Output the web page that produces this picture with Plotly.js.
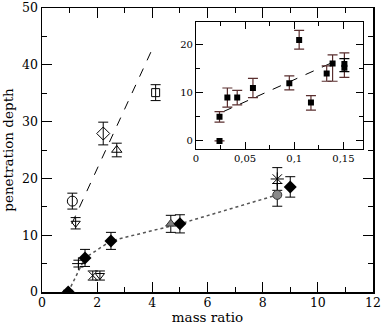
<!DOCTYPE html>
<html>
<head>
<meta charset="utf-8">
<script src="https://cdn.plot.ly/plotly-3.0.1.min.js"></script>
<style>
  html, body { margin: 0; padding: 0; background: #fff; }
  #chart { width: 382px; height: 327px; }
</style>
</head>
<body>
<div id="chart"></div>
<script>
// main panel: filled diamonds with the dotted guide
const massDiamond = [0.95, 1.56, 2.5, 5.0, 9.0];
const depthDiamond = [0, 6, 9, 12, 18.5];
const errDiamond = [0.3, 1.5, 1.5, 1.6, 1.8];

const massDotted = [0.95, 1.56, 2.5, 5.0, 8.53];
const depthDotted = [0, 6, 9, 12, 17.1];

const massDashed = [1.08, 4.01];
const depthDashed = [12.0, 42.9];

// single points, one symbol each
const pointSymbols = ['circle-open', 'triangle-down-open', 'diamond-open', 'triangle-up-open',
  'square-open', 'cross-thin-open', 'x-thin-open', 'triangle-down-open',
  'triangle-up', 'asterisk-open', 'circle'];
const pointMass = [1.10, 1.22, 2.22, 2.71, 4.12, 1.32, 1.84, 2.10, 4.67, 8.53, 8.53];
const pointDepth = [16.0, 12.1, 27.9, 25.0, 35.1, 5.0, 2.9, 2.9, 12.0, 19.9, 17.1];
const pointErr = [1.4, 1.0, 2.0, 1.2, 1.4, 0.6, 0.8, 0.8, 1.5, 2.0, 2.0];
const pointColor = ['black', 'black', 'black', 'black', 'black', 'black', 'black', 'black', '#808080', 'black', '#8a8a8a'];
const pointSize = [10, 8, 10, 9, 8, 9, 8, 8, 9, 11, 9];

// inset
const insetX = [0.024, 0.024, 0.032, 0.042, 0.058, 0.095, 0.105, 0.117, 0.133, 0.139, 0.151];
const insetY = [0, 5, 9, 9, 11, 12, 21, 8, 14, 16.1, 16.0];
const insetErrPlus = [0, 1.1, 2.0, 1.5, 2.0, 1.5, 2.0, 1.4, 1.6, 1.8, 2.3];
const insetErrMinus = [0, 1.1, 2.0, 1.5, 2.0, 1.4, 1.9, 1.6, 1.6, 3.7, 2.8];

const insetInnerX = [0.151];
const insetInnerY = [15.2];
const insetInnerPlus = [1.9];
const insetInnerMinus = [0.8];

const insetDashedX = [0.028, 0.142];
const insetDashedY = [6.1, 16.6];

const serif = 'DejaVu Serif';

const traces = [];

traces.push({
  x: massDotted, y: depthDotted, type: 'scatter', mode: 'lines',
  line: { color: '#555', width: 1.5, dash: 'dot' }
});
traces.push({
  x: massDashed, y: depthDashed, type: 'scatter', mode: 'lines',
  line: { color: 'black', width: 1, dash: 'dash' }
});

for (let i = 0; i < pointMass.length; i++) {
  const filled = i === 8 || i === 10;
  traces.push({
    x: [pointMass[i]], y: [pointDepth[i]], type: 'scatter', mode: 'markers',
    error_y: { type: 'data', array: [pointErr[i]], width: 5, thickness: 1, color: 'black' },
    marker: {
      symbol: pointSymbols[i], size: pointSize[i], color: pointColor[i],
      line: { color: filled ? '#333' : 'black', width: 1 }
    }
  });
}

traces.push({
  x: massDiamond, y: depthDiamond, type: 'scatter', mode: 'markers',
  error_y: { type: 'data', array: errDiamond, width: 5, thickness: 1, color: 'black' },
  marker: { symbol: 'diamond', size: 10, color: 'black' }
});

traces.push({
  x: insetDashedX, y: insetDashedY, xaxis: 'x2', yaxis: 'y2', type: 'scatter', mode: 'lines',
  line: { color: 'black', width: 1, dash: 'dash' }
});
traces.push({
  x: insetX, y: insetY, xaxis: 'x2', yaxis: 'y2', type: 'scatter', mode: 'markers',
  error_y: { type: 'data', symmetric: false, array: insetErrPlus, arrayminus: insetErrMinus,
    width: 5, thickness: 1.2, color: '#5a2f2f' },
  marker: { symbol: 'square', size: 6, color: 'black' }
});
traces.push({
  x: insetInnerX, y: insetInnerY, xaxis: 'x2', yaxis: 'y2', type: 'scatter', mode: 'markers',
  error_y: { type: 'data', symmetric: false, array: insetInnerPlus, arrayminus: insetInnerMinus,
    width: 5, thickness: 1.2, color: 'black' },
  marker: { symbol: 'square', size: 6, color: 'black' }
});

const axisBase = {
  showline: true, linecolor: 'black', mirror: 'ticks', ticks: 'inside',
  tickcolor: 'black', showgrid: false, zeroline: false, ticklabeloverflow: 'allow'
};

const layout = {
  width: 382,
  height: 327,
  showlegend: false,
  separators: ', ',
  paper_bgcolor: 'white',
  plot_bgcolor: 'white',
  font: { family: serif, color: 'black' },
  margin: { l: 42, r: 9, t: 8, b: 35 },
  xaxis: Object.assign({}, axisBase, {
    range: [0, 12.0001], tick0: 0, dtick: 2, ticklen: 10, linewidth: 1.5,
    minor: { dtick: 1, ticklen: 5, ticks: 'inside', tickcolor: 'black' },
    tickfont: { family: serif, size: 12.5 }, ticklabelstandoff: -2,
    title: { text: 'mass ratio', font: { family: serif, size: 13.5 }, standoff: 4 }
  }),
  yaxis: Object.assign({}, axisBase, {
    range: [-0.0001, 50.0001], tick0: 0, dtick: 10, ticklen: 10, linewidth: 1.5,
    minor: { dtick: 5, ticklen: 5, ticks: 'inside', tickcolor: 'black' },
    tickfont: { family: serif, size: 12.5 },
    title: { text: 'penetration depth', font: { family: serif, size: 13.5 }, standoff: 6 }
  }),
  xaxis2: Object.assign({}, axisBase, {
    anchor: 'y2', domain: [0.465, 0.970],
    range: [0, 0.17], tick0: 0, dtick: 0.05, ticklen: 7, linewidth: 1,
    minor: { dtick: 0.025, ticklen: 4, ticks: 'inside', tickcolor: 'black' },
    tickfont: { family: serif, size: 10 }
  }),
  yaxis2: Object.assign({}, axisBase, {
    anchor: 'x2', domain: [0.505, 0.952],
    range: [-1.6, 24.8], tick0: 0, dtick: 10, ticklen: 7, linewidth: 1,
    minor: { dtick: 5, ticklen: 4, ticks: 'inside', tickcolor: 'black' },
    tickfont: { family: serif, size: 10 }
  })
};

Plotly.newPlot('chart', traces, layout, { displayModeBar: false, staticPlot: true });
</script>
</body>
</html>
